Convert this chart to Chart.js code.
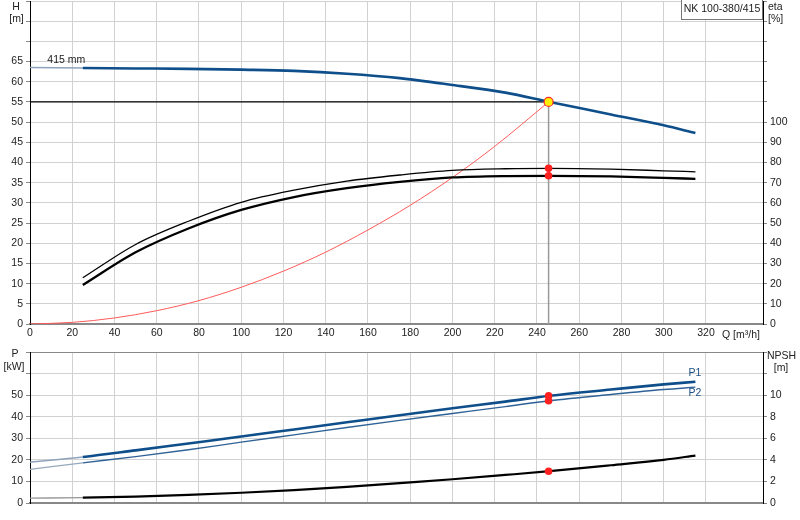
<!DOCTYPE html>
<html>
<head>
<meta charset="utf-8">
<script src="https://cdn.jsdelivr.net/npm/chart.js@4.4.1/dist/chart.umd.min.js"></script>
<style>
  html, body { margin: 0; padding: 0; background: #fff; overflow: hidden; }
  #wrap { position: relative; width: 800px; height: 520px; }
  #top { position: absolute; left: 0; top: -8px; width: 800px; height: 353px; }
  #bottom { position: absolute; left: 0; top: 343px; width: 800px; height: 177px; }
</style>
</head>
<body>
<div id="wrap">
  <div id="top"><canvas id="headChart"></canvas></div>
  <div id="bottom"><canvas id="powerChart"></canvas></div>
</div>
<script>
// flow Q [m3/h], shared by the pump curves
const flow = [0, 25, 50, 75, 100, 125, 150, 175, 200, 225, 246, 275, 300, 315];
// head H [m], 415 mm impeller
const head = [63.5, 63.4, 63.3, 63.2, 63.0, 62.7, 62.0, 60.9, 59.2, 57.3, 55.0, 51.9, 49.2, 47.3];
// efficiency [%] (no values below 25 m3/h)
const etaUpper = [null, 22.9, 39.4, 50.9, 60.3, 66.3, 70.8, 73.8, 76.1, 76.9, 77.1, 76.7, 75.9, 75.4];
const etaLower = [null, 19.3, 35.5, 47.3, 56.5, 62.9, 67.3, 70.4, 72.6, 73.3, 73.4, 73.1, 72.4, 71.9];
// power [kW] and NPSH [m]
const powerP1 = [18.9, 21.3, 24.4, 27.6, 30.8, 34.1, 37.4, 40.7, 43.9, 47.0, 49.7, 52.6, 55.0, 56.2];
const powerP2 = [15.6, 18.6, 21.5, 24.7, 28.2, 31.6, 35.0, 38.3, 41.5, 44.7, 47.4, 50.3, 52.6, 53.7];
const npsh = [0.45, 0.5, 0.6, 0.75, 0.95, 1.2, 1.5, 1.85, 2.2, 2.6, 2.95, 3.5, 4.0, 4.4];

// system curve
const sysFlow = [0, 20, 40, 60, 80, 100, 120, 140, 160, 180, 200, 220, 245.5];
const sysHead = [0, 0.4, 1.5, 3.3, 5.8, 9.1, 13.1, 17.8, 23.3, 29.4, 36.3, 44.0, 55.0];

// duty point
const dutyFlow = 245.5;
const dutyHead = 55.0;
const dutyEta = [77.1, 73.4];
const dutyPower = [49.7, 47.4];
const dutyNpsh = 2.95;

// axis ranges and ticks
const qMax = 347, qStep = 20, qLabelMax = 320;
const hMax = 80, hStep = 5, hLabelMax = 65;
const etaMax = 160, etaStep = 10, etaLabelMax = 100;
const pMax = 70, pStep = 10, pLabelMax = 50;
const npshMax = 14, npshStep = 2, npshLabelMax = 10;

const FONT = 'Liberation Sans, Arial, sans-serif';
const tickFont = { family: FONT, size: 10.5, lineHeight: '12px' };
const gridColor = '#d2d2d2';
const blue = '#0e4e8a';

const pts = (xs, ys) => xs.map((x, i) => ({ x: x, y: ys[i] })).filter(p => p.y != null);
// lighter, thinner stroke for the part below 25 m3/h
const faded = (color, width) => ({
  borderColor: c => c.p1.parsed.x <= 25 ? color : undefined,
  borderWidth: c => c.p1.parsed.x <= 25 ? width : undefined
});
const onlyMultiples = step => scale => {
  scale.ticks = scale.ticks.filter(t => Math.abs(t.value / step - Math.round(t.value / step)) < 1e-6);
};

function qAxis(showLabels, height) {
  return {
    type: 'linear', min: 0, max: qMax,
    afterBuildTicks: onlyMultiples(qStep),
    afterFit: s => { s.height = height; },
    ticks: {
      display: showLabels, stepSize: qStep, padding: 3, color: '#222', font: tickFont,
      maxRotation: 0, autoSkip: false,
      callback: v => v <= qLabelMax ? v : ''
    },
    grid: { color: gridColor, drawTicks: false },
    border: { color: '#888', width: 2 }
  };
}
function valueAxis(pos, max, step, labelMax, width, drawGrid) {
  return {
    type: 'linear', position: pos, min: 0, max: max,
    afterBuildTicks: onlyMultiples(step),
    afterFit: s => { s.width = width; },
    ticks: {
      stepSize: step, padding: 3, color: '#222', font: tickFont, autoSkip: false,
      callback: v => v <= labelMax ? v : ''
    },
    grid: {
      drawOnChartArea: drawGrid, tickLength: 4, tickColor: '#888',
      color: c => (c.tick && c.tick.value === max && pos === 'left' && max === pMax) ? '#888' : gridColor
    },
    border: { color: '#000', width: 1 }
  };
}

function text(ctx, str, x, y, align) {
  ctx.textAlign = align || 'left';
  ctx.fillText(str, x, y);
}

const headLabels = {
  id: 'headLabels',
  afterDraw(chart) {
    const ctx = chart.ctx, top = chart.chartArea.top;
    ctx.save();
    ctx.font = '10.5px ' + FONT;
    ctx.fillStyle = '#222';
    ctx.textBaseline = 'middle';
    text(ctx, 'H', 16, top + 6, 'center');
    text(ctx, '[m]', 16.5, top + 18, 'center');
    text(ctx, 'eta', 768, top + 6);
    text(ctx, '[%]', 768, top + 18);
    text(ctx, 'Q [m³/h]', 722, top + 334);
    const xs = chart.scales.x, ys = chart.scales.y;
    text(ctx, '415 mm', xs.getPixelForValue(8.2), ys.getPixelForValue(head[0]) - 8);
    // type box
    ctx.fillStyle = '#fff';
    ctx.fillRect(681, top - 2, 82, 21);
    ctx.strokeStyle = '#777';
    ctx.lineWidth = 1;
    ctx.strokeRect(681.5, top - 2, 81, 20.5);
    ctx.fillStyle = '#222';
    text(ctx, 'NK 100-380/415', 722, top + 8.5, 'center');
    ctx.restore();
  }
};

const powerLabels = {
  id: 'powerLabels',
  afterDraw(chart) {
    const ctx = chart.ctx, top = chart.chartArea.top;
    ctx.save();
    ctx.font = '10.5px ' + FONT;
    ctx.fillStyle = '#222';
    ctx.textBaseline = 'middle';
    text(ctx, 'P', 15, top + 2, 'center');
    text(ctx, '[kW]', 14, top + 15, 'center');
    text(ctx, 'NPSH', 767, top + 4);
    text(ctx, '[m]', 781, top + 16, 'center');
    ctx.fillStyle = '#1b4f86';
    const xs = chart.scales.x, ys = chart.scales.y;
    const xEnd = xs.getPixelForValue(flow[flow.length - 1]);
    text(ctx, 'P1', xEnd - 7, ys.getPixelForValue(powerP1[powerP1.length - 1]) - 9);
    text(ctx, 'P2', xEnd - 7, ys.getPixelForValue(powerP2[powerP2.length - 1]) + 6);
    ctx.restore();
  }
};

const common = {
  responsive: true, maintainAspectRatio: false, animation: false,
  layout: { padding: 0 },
  plugins: { legend: { display: false }, tooltip: { enabled: false } },
  elements: { point: { radius: 0 }, line: { cubicInterpolationMode: 'monotone' } }
};

new Chart(document.getElementById('headChart'), {
  type: 'scatter',
  data: {
    datasets: [
      { data: [{ x: dutyFlow, y: dutyHead }], yAxisID: 'y', pointRadius: 4.5,
        pointBackgroundColor: '#ffee00', pointBorderColor: '#ff2a2a', pointBorderWidth: 1.2 },
      { data: dutyEta.map(v => ({ x: dutyFlow, y: v })), yAxisID: 'y1', pointRadius: 3.8,
        pointBackgroundColor: '#ff2020', pointBorderColor: '#ff2020', pointBorderWidth: 0 },
      { data: pts(flow, head), yAxisID: 'y', showLine: true, borderColor: blue, borderWidth: 2.6,
        segment: faded('#8da3bb', 1.5) },
      { data: pts(flow, etaUpper), yAxisID: 'y1', showLine: true, borderColor: '#000', borderWidth: 1.3 },
      { data: pts(flow, etaLower), yAxisID: 'y1', showLine: true, borderColor: '#000', borderWidth: 2.3 },
      { data: pts(sysFlow, sysHead), yAxisID: 'y', showLine: true, borderColor: '#ff5a5a', borderWidth: 1 },
      { data: [{ x: 0, y: dutyHead }, { x: dutyFlow, y: dutyHead }], yAxisID: 'y', showLine: true,
        borderColor: '#000', borderWidth: 1.2, cubicInterpolationMode: 'default', tension: 0 },
      { data: [{ x: dutyFlow, y: 0 }, { x: dutyFlow, y: dutyHead }], yAxisID: 'y', showLine: true,
        borderColor: '#999', borderWidth: 1.5, cubicInterpolationMode: 'default', tension: 0 }
    ]
  },
  options: Object.assign({}, common, {
    scales: {
      x: qAxis(true, 21),
      y: valueAxis('left', hMax, hStep, hLabelMax, 30, true),
      y1: valueAxis('right', etaMax, etaStep, etaLabelMax, 37, false)
    }
  }),
  plugins: [headLabels]
});

new Chart(document.getElementById('powerChart'), {
  type: 'scatter',
  data: {
    datasets: [
      { data: dutyPower.map(v => ({ x: dutyFlow, y: v })), yAxisID: 'y', pointRadius: 3.8,
        pointBackgroundColor: '#ff2020', pointBorderWidth: 0 },
      { data: [{ x: dutyFlow, y: dutyNpsh }], yAxisID: 'y1', pointRadius: 3.8,
        pointBackgroundColor: '#ff2020', pointBorderWidth: 0 },
      { data: pts(flow, powerP1), yAxisID: 'y', showLine: true, borderColor: blue, borderWidth: 2.6,
        segment: faded('#8da3bb', 1.5) },
      { data: pts(flow, powerP2), yAxisID: 'y', showLine: true, borderColor: '#2f6296', borderWidth: 1.4,
        segment: faded('#97a9bd', 1.3) },
      { data: pts(flow, npsh), yAxisID: 'y1', showLine: true, borderColor: '#000', borderWidth: 2.2,
        segment: faded('#999', 1.3) }
    ]
  },
  options: Object.assign({}, common, {
    scales: {
      x: qAxis(false, 17),
      y: valueAxis('left', pMax, pStep, pLabelMax, 30, true),
      y1: valueAxis('right', npshMax, npshStep, npshLabelMax, 37, false)
    }
  }),
  plugins: [powerLabels]
});
</script>
</body>
</html>
